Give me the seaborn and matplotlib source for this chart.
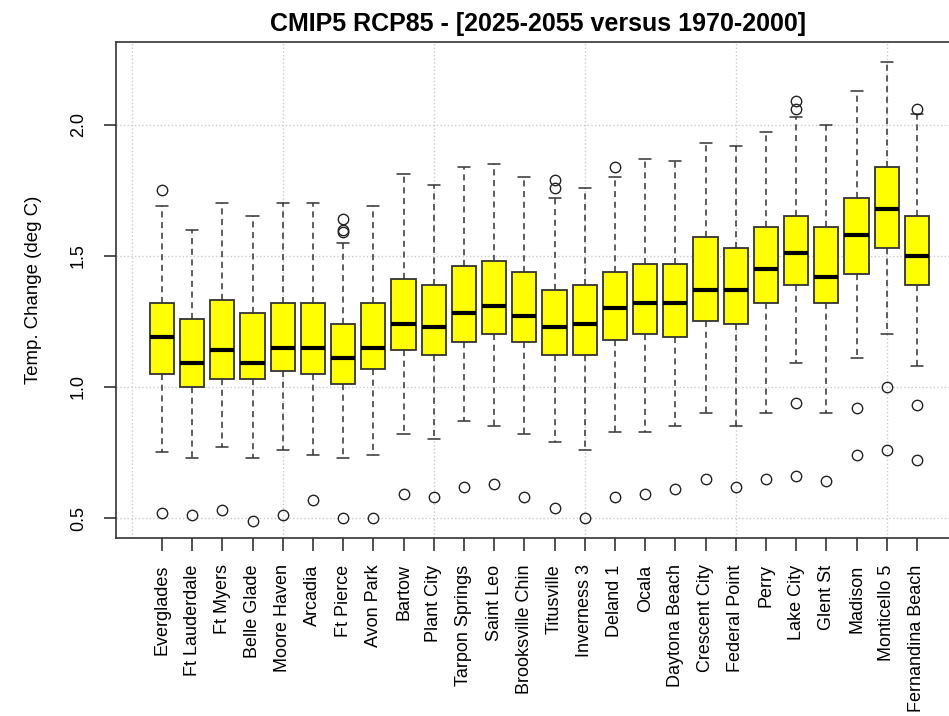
import matplotlib
matplotlib.use("Agg")
import matplotlib.pyplot as plt
import seaborn as sns

stations = ["Everglades", "Ft Lauderdale", "Ft Myers", "Belle Glade", "Moore Haven",
            "Arcadia", "Ft Pierce", "Avon Park", "Bartow", "Plant City",
            "Tarpon Springs", "Saint Leo", "Brooksville Chin", "Titusville",
            "Inverness 3", "Deland 1", "Ocala", "Daytona Beach", "Crescent City",
            "Federal Point", "Perry", "Lake City", "Glent St", "Madison",
            "Monticello 5", "Fernandina Beach"]

whisk_lo = [0.75, 0.73, 0.77, 0.73, 0.76, 0.74, 0.73, 0.74, 0.82, 0.80, 0.87, 0.85, 0.82,
            0.79, 0.76, 0.83, 0.83, 0.85, 0.90, 0.85, 0.90, 1.09, 0.90, 1.11, 1.20, 1.08]
q1 = [1.05, 1.00, 1.03, 1.03, 1.06, 1.05, 1.01, 1.07, 1.14, 1.12, 1.17, 1.20, 1.17,
      1.12, 1.12, 1.18, 1.20, 1.19, 1.25, 1.24, 1.32, 1.39, 1.32, 1.43, 1.53, 1.39]
medians = [1.19, 1.09, 1.14, 1.09, 1.15, 1.15, 1.11, 1.15, 1.24, 1.23, 1.28, 1.31, 1.27,
           1.23, 1.24, 1.30, 1.32, 1.32, 1.37, 1.37, 1.45, 1.51, 1.42, 1.58, 1.68, 1.50]
q3 = [1.32, 1.26, 1.33, 1.28, 1.32, 1.32, 1.24, 1.32, 1.41, 1.39, 1.46, 1.48, 1.44,
      1.37, 1.39, 1.44, 1.47, 1.47, 1.57, 1.53, 1.61, 1.65, 1.61, 1.72, 1.84, 1.65]
whisk_hi = [1.69, 1.60, 1.70, 1.65, 1.70, 1.70, 1.55, 1.69, 1.81, 1.77, 1.84, 1.85, 1.80,
            1.72, 1.76, 1.80, 1.87, 1.86, 1.93, 1.92, 1.97, 2.03, 2.00, 2.13, 2.24, 2.04]
outliers = [[1.75, 0.52], [0.51], [0.53], [0.49], [0.51], [0.57],
            [1.64, 1.60, 1.59, 0.50], [0.50], [0.59], [0.58], [0.62], [0.63], [0.58],
            [1.79, 1.76, 0.54], [0.50], [1.84, 0.58], [0.59], [0.61], [0.65], [0.62],
            [0.65], [2.09, 2.06, 0.94, 0.66], [0.64], [0.92, 0.74], [1.00, 0.76],
            [2.06, 0.93, 0.72]]

sns.set_theme(style="white", rc={"text.color": "black", "axes.labelcolor": "black",
                                 "xtick.color": "black", "ytick.color": "black"})
plt.rcParams["font.family"] = ["Liberation Sans", "DejaVu Sans"]

stats = []
for i, name in enumerate(stations):
    stats.append({"label": name, "whislo": whisk_lo[i], "q1": q1[i], "med": medians[i],
                  "q3": q3[i], "whishi": whisk_hi[i], "fliers": outliers[i]})

fig = plt.figure(figsize=(9.49, 7.16), dpi=100)
ax = fig.add_axes([116 / 949, 178 / 716, 1 - 116 / 949, 496 / 716])

pos = list(range(len(stations)))
ax.bxp(stats, positions=pos, widths=0.8, patch_artist=True,
       boxprops=dict(facecolor="#ffff00", edgecolor="#333333", linewidth=1.3),
       medianprops=dict(color="black", linewidth=3.0, solid_capstyle="butt"),
       whiskerprops=dict(color="#333333", linestyle=(0, (4, 3)), linewidth=1.1),
       capprops=dict(color="#333333", linewidth=1.1),
       capwidths=0.4,
       flierprops=dict(marker="o", markerfacecolor="none", markeredgecolor="#222222",
                       markersize=7.5, markeredgewidth=1.0))

for gx in [-1, 4, 9, 14, 19, 24]:
    ax.axvline(gx, color="#cccccc", linestyle=":", linewidth=1, zorder=0)
for gy in [0.5, 1.0, 1.5, 2.0]:
    ax.axhline(gy, color="#cccccc", linestyle=":", linewidth=1, zorder=0)

ax.set_xlim(-1.52, 26.06)
ax.set_ylim(0.424, 2.315)
ax.set_xticks(pos)
ax.set_xticklabels(stations, rotation=90, fontsize=13)
ax.set_yticks([0.5, 1.0, 1.5, 2.0])
ax.set_yticklabels(["0.5", "1.0", "1.5", "2.0"], rotation=90, va="center", fontsize=13)
ax.tick_params(axis="x", direction="out", length=9, width=1.2, color="#333333", pad=10,
               bottom=True)
ax.tick_params(axis="y", direction="out", length=9, width=1.2, color="#333333", pad=12,
               left=True)
for side in ["left", "bottom", "top"]:
    ax.spines[side].set_color("#333333")
    ax.spines[side].set_linewidth(1.2)
ax.spines["right"].set_visible(False)

ax.set_ylabel("Temp. Change (deg C)", fontsize=13.4, labelpad=20)
ax.set_title("CMIP5 RCP85 - [2025-2055 versus 1970-2000]", fontsize=18,
             fontweight="bold", pad=8, x=(538 - 116) / (949 - 116))

fig.savefig("out.png", dpi=100)
